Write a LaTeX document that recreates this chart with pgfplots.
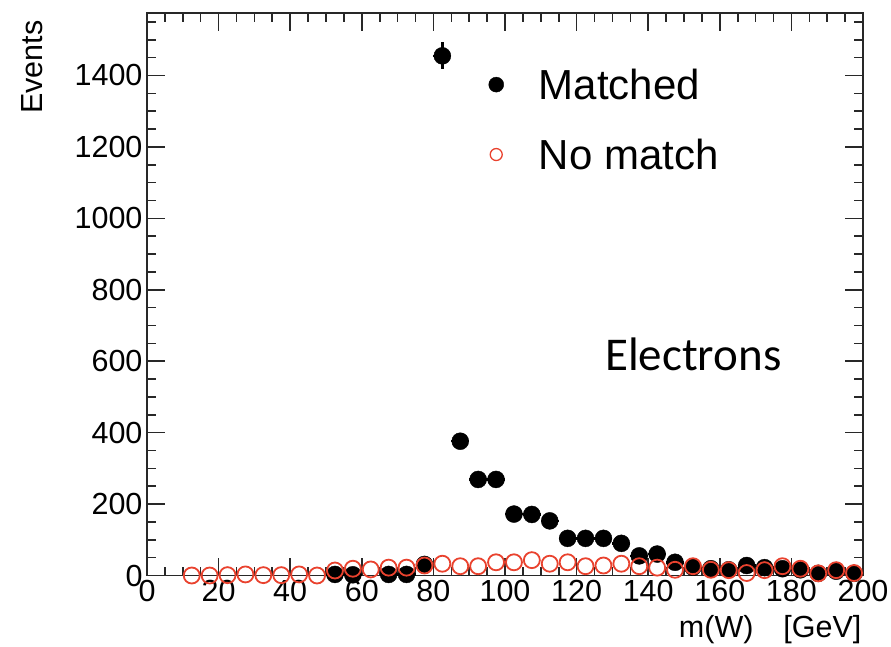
\documentclass[border=0pt]{standalone}
\usepackage{pgfplots}
\pgfplotsset{compat=1.18}
\usepackage{pgfplotstable}
\usepackage{fontspec}
\setmainfont{Liberation Sans}
\newfontfamily\carlito{Carlito}
\definecolor{rootred}{RGB}{233,66,46}
\definecolor{axgray}{RGB}{40,40,40}

\pgfplotstableread{
x y ex ey
52.5 3 2.5 1.7
57.5 2 2.5 1.4
67.5 3 2.5 1.7
72.5 3 2.5 1.7
77.5 31 2.5 5.6
82.5 1455 2.5 38.1
87.5 376 2.5 19.4
92.5 269 2.5 16.4
97.5 269 2.5 16.4
102.5 172 2.5 13.1
107.5 171 2.5 13.1
112.5 153 2.5 12.4
117.5 104 2.5 10.2
122.5 104 2.5 10.2
127.5 104 2.5 10.2
132.5 90 2.5 9.5
137.5 55 2.5 7.4
142.5 60 2.5 7.7
147.5 37 2.5 6.1
152.5 23 2.5 4.8
157.5 19 2.5 4.4
162.5 16 2.5 4.0
167.5 28 2.5 5.3
172.5 22 2.5 4.7
177.5 19 2.5 4.4
182.5 16 2.5 4.0
187.5 6 2.5 2.4
192.5 12 2.5 3.5
197.5 6 2.5 2.4
}\matched

\pgfplotstableread{
x y
12.5 0
17.5 0
22.5 1
27.5 3
32.5 1
37.5 1
42.5 3
47.5 0
52.5 14
57.5 19
62.5 17
67.5 22
72.5 22
77.5 28
82.5 33
87.5 26
92.5 26
97.5 37
102.5 37
107.5 43
112.5 33
117.5 37
122.5 26
127.5 28
132.5 33
137.5 26
142.5 22
147.5 16
152.5 26
157.5 16
162.5 15
167.5 7
172.5 15
177.5 26
182.5 19
187.5 6
192.5 15
197.5 7
}\nomatch

\begin{document}
\begin{tikzpicture}
\begin{axis}[
  scale only axis,
  width=716pt, height=562.5pt,
  xmin=0, xmax=200, ymin=0, ymax=1575,
  clip=false,
  axis line style={line width=1.6pt, color=axgray},
  xtick distance=20, ytick distance=200,
  minor x tick num=3, minor y tick num=3,
  major tick length=18pt, minor tick length=9pt,
  every tick/.style={line width=1.6pt, color=axgray},
  tick align=inside,
  xtick pos=both, ytick pos=both,
  xticklabel pos=lower, yticklabel pos=left,
  /pgf/number format/assume math mode=true,
  /pgf/number format/1000 sep={},
  tick label style={font=\fontsize{30.5}{33}\selectfont},
  xticklabel style={yshift=-1pt},
  yticklabel style={xshift=-1pt},
  xlabel={m(W)\hspace{30pt}[GeV]},
  xlabel style={font=\fontsize{30.5}{33}\selectfont, at={(rel axis cs:1,0)}, anchor=base east, xshift=2pt, yshift=-61.5pt},
  ylabel={Events},
  ylabel style={font=\fontsize{30.5}{33}\selectfont, at={(rel axis cs:0,1)}, anchor=base east, xshift=-4pt, yshift=104pt},
  legend style={at={(rel axis cs:0.477,0.905)}, anchor=north west, draw=none, fill=none,
    font=\fontsize{42}{46}\selectfont, row sep=34pt, inner sep=0pt,
    nodes={inner sep=2pt}},
  legend cell align=left,
  legend image code/.code={\path[draw=none,fill=none] (0pt,-1pt) rectangle (48pt,1pt); \draw[#1] plot coordinates {(7.5pt,0pt)};},
]
\addlegendimage{only marks, mark=*, mark size=7.5pt, black}
\addlegendentry{Matched}
\addlegendimage{only marks, mark=o, mark size=6pt, line width=1.3pt, rootred}
\addlegendentry{No match}

\addplot[forget plot, only marks, mark=*, mark size=8.5pt, black,
  error bars/.cd, y dir=both, y explicit, x dir=both, x explicit,
  error bar style={line width=2.5pt, black}, error mark=none]
  table[x=x, y=y, x error=ex, y error=ey] {\matched};

\addplot[forget plot, only marks, mark=o, mark size=8pt, line width=1.8pt, rootred]
  table[x=x, y=y] {\nomatch};

\node[anchor=base west, inner sep=0pt, font=\carlito\fontsize{47}{50}\selectfont]
  at (rel axis cs:0.6397,0.3636) {Electrons};

\coordinate (bl) at ([xshift=-147pt, yshift=-70.5pt]rel axis cs:0,0);
\coordinate (tr) at ([xshift=28pt, yshift=13pt]rel axis cs:1,1);
\end{axis}
\pgfresetboundingbox
\path[use as bounding box] (bl) rectangle (tr);
\end{tikzpicture}
\end{document}
